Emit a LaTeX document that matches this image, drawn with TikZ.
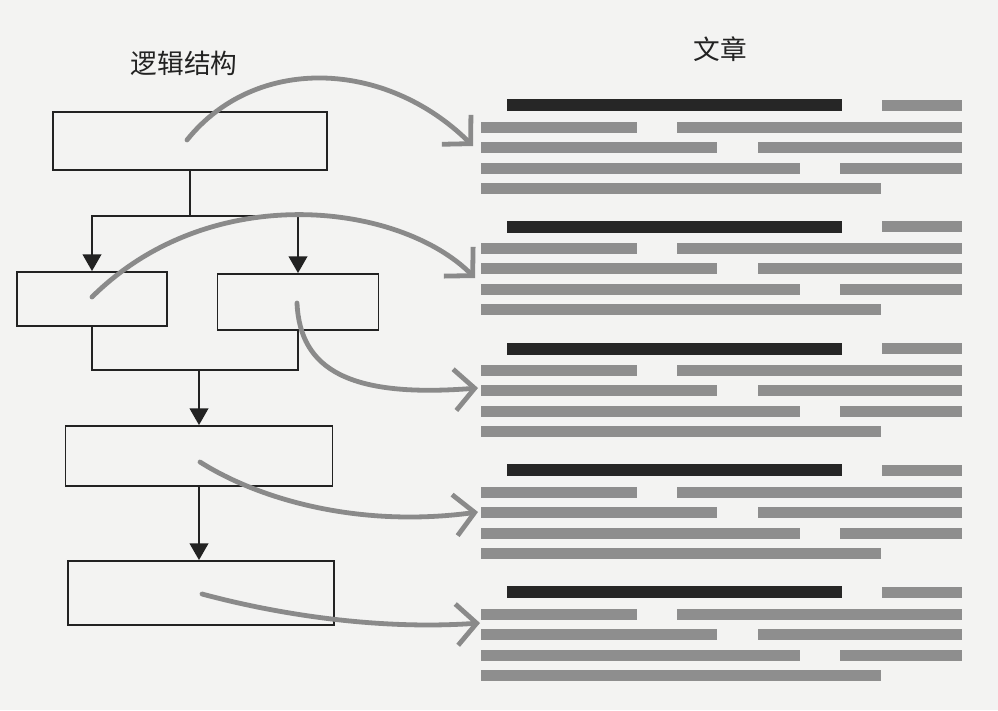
\documentclass[tikz,border=0pt]{standalone}
\usepackage{fontspec}
\newfontfamily\cjk{Noto Sans CJK SC}
\usetikzlibrary{arrows.meta}
\definecolor{paper}{HTML}{F3F3F2}
\definecolor{ink}{HTML}{222222}
\definecolor{bargray}{HTML}{8E8E8E}
\definecolor{bardark}{HTML}{262626}
\definecolor{flowgray}{HTML}{8A8A8A}
\tikzset{
  box/.style={draw=ink, line width=1.4pt, inner sep=0pt},
  conn/.style={draw=ink, line width=1.3pt},
  tri/.style={-{Triangle[length=12.5pt,width=14pt]}},
  flow/.style={draw=flowgray, line width=3.6pt, line cap=round,
    -{Straight Barb[length=15pt,width=31pt,line width=3.6pt]}},
  title/.style={font=\cjk\fontsize{20pt}{24pt}\selectfont, text=ink},
}
\begin{document}
\begin{tikzpicture}[x=0.75pt,y=-0.75pt]
\fill[paper] (0,0) rectangle (998,710);
\useasboundingbox (0,0) rectangle (998,710);

% titles
\node[title] (t1) at (184,63) {逻辑结构};
\node[title] (t2) at (720,49) {文章};

% boxes
\node[box, minimum width=205.5pt, minimum height=43.5pt] (b1) at (190,141) {};
\node[box, minimum width=112.5pt, minimum height=40.5pt] (b2) at (92,299) {};
\node[box, minimum width=120.75pt, minimum height=42pt] (b3) at (298,302) {};
\node[box, minimum width=200.25pt, minimum height=45pt] (b4) at (199,456) {};
\node[box, minimum width=199.5pt, minimum height=48pt] (b5) at (201,593) {};

% black connectors
\coordinate (j1) at (190,216);
\coordinate (j2) at (199,370);
\draw[conn] (b1.south) -- (j1);
\draw[conn,tri] (j1) -| (b2.north);
\draw[conn,tri] (j1) -| (b3.north);
\draw[conn] (b2.south) |- (j2) -| (b3.south);
\draw[conn,tri] (j2) -- (j2 |- b4.north);
\draw[conn,tri] (b4.south) -- (b4.south |- b5.north);

% text bars
\foreach \k in {0,...,4}{
  \pgfmathsetmacro{\yy}{105+121.8*\k}
  \fill[bardark] (507,\yy-6) rectangle (842,\yy+6);
  \fill[bargray] (882,\yy-5.5) rectangle (962,\yy+5.5);
  \fill[bargray] (481,\yy+22-5.5) rectangle (637,\yy+22+5.5);
  \fill[bargray] (677,\yy+22-5.5) rectangle (962,\yy+22+5.5);
  \fill[bargray] (481,\yy+42-5.5) rectangle (717,\yy+42+5.5);
  \fill[bargray] (758,\yy+42-5.5) rectangle (962,\yy+42+5.5);
  \fill[bargray] (481,\yy+63-5.5) rectangle (800,\yy+63+5.5);
  \fill[bargray] (840,\yy+63-5.5) rectangle (962,\yy+63+5.5);
  \fill[bargray] (481,\yy+83-5.5) rectangle (881,\yy+83+5.5);
}

% gray flow arrows
\coordinate (s1) at (187,140);
\coordinate (e1) at (473,146);
\coordinate (s2) at (92,297);
\coordinate (e2) at (475,278);
\coordinate (s3) at (297,303);
\coordinate (e3) at (478,388);
\coordinate (s4) at (200,462);
\coordinate (e4) at (478,512);
\coordinate (s5) at (202,594);
\coordinate (e5) at (480,623);
\draw[flow] (s1) .. controls (255,55) and (385,59) .. (e1);
\draw[flow] (s2) .. controls (211,179) and (400,203) .. (e2);
\draw[flow] (s3) .. controls (300,370) and (350,398) .. (e3);
\draw[flow] (s4) .. controls (260,500) and (360,528) .. (e4);
\draw[flow] (s5) .. controls (280,615) and (380,630) .. (e5);
\end{tikzpicture}
\end{document}
